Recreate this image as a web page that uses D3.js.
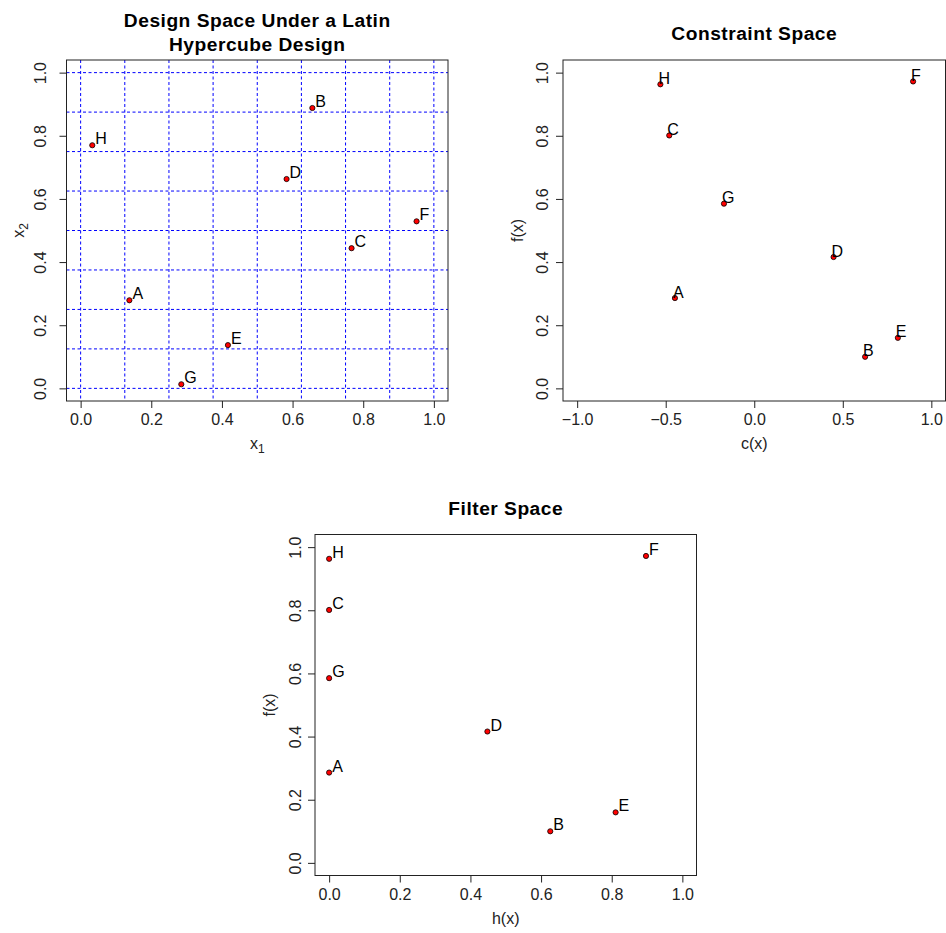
<!DOCTYPE html>
<html>
<head>
<meta charset="utf-8">
<script src="https://cdn.jsdelivr.net/npm/d3@7"></script>
<style>
  html, body { margin: 0; padding: 0; background: #fff; }
  svg { display: block; font-family: "Liberation Sans", Arial, Helvetica, sans-serif; }
</style>
</head>
<body>
<svg id="fig" width="946" height="933"></svg>
<script>
// Eight design points A–H and their responses
const labels = ["A", "B", "C", "D", "E", "F", "G", "H"];
const x1 = [0.138, 0.656, 0.767, 0.583, 0.417, 0.951, 0.285, 0.033];
const x2 = [0.279, 0.888, 0.444, 0.663, 0.137, 0.529, 0.013, 0.770];
const cx = [-0.448, 0.626, -0.480, 0.448, 0.811, 0.897, -0.171, -0.530];
const fx = [0.286, 0.100, 0.801, 0.416, 0.160, 0.972, 0.585, 0.963];
const hx = [0, 0.626, 0, 0.448, 0.811, 0.897, 0, 0];

// Axis ticks and Latin hypercube cell boundaries
const unitTicks = [0, 0.2, 0.4, 0.6, 0.8, 1.0];
const constraintTicks = [-1.0, -0.5, 0.0, 0.5, 1.0];
const lhsBreaks = [0, 0.125, 0.25, 0.375, 0.5, 0.625, 0.75, 0.875, 1];

const svg = d3.select("#fig");
const fmt = d3.format(".1f");
const ink = "#222";

// R-style 4% padding around the data range
function padded(lo, hi) {
  const p = (hi - lo) * 0.04;
  return [lo - p, hi + p];
}

function panel(o) {
  const g = svg.append("g");
  const { left, right, top, bottom } = o.box;
  const x = d3.scaleLinear().domain(padded(...o.xRange)).range([left, right]);
  const y = d3.scaleLinear().domain(padded(...o.yRange)).range([bottom, top]);

  // grid lines marking the hypercube strata
  if (o.grid) {
    const gg = g.append("g")
      .attr("stroke", "#0000ff").attr("stroke-width", 1)
      .attr("stroke-dasharray", "3,2.5").attr("fill", "none");
    gg.selectAll("line.v").data(o.grid).join("line").attr("class", "v")
      .attr("x1", d => x(d)).attr("x2", d => x(d))
      .attr("y1", top).attr("y2", bottom);
    gg.selectAll("line.h").data(o.grid).join("line").attr("class", "h")
      .attr("x1", left).attr("x2", right)
      .attr("y1", d => y(d)).attr("y2", d => y(d));
  }

  // axes (ticks outward, labels parallel to the axis)
  const xAxis = g.append("g").attr("transform", `translate(0,${bottom})`)
    .call(d3.axisBottom(x).tickValues(o.xTicks).tickFormat(fmt).tickSize(7).tickPadding(7));
  const yAxis = g.append("g").attr("transform", `translate(${left},0)`)
    .call(d3.axisLeft(y).tickValues(o.yTicks).tickFormat(fmt).tickSize(7));
  [xAxis, yAxis].forEach(a => {
    a.select(".domain").remove();
    a.selectAll(".tick line").attr("stroke", ink);
    a.selectAll(".tick text").attr("fill", ink).attr("font-size", 16)
      .attr("font-family", "Liberation Sans, Arial, sans-serif");
  });
  xAxis.selectAll(".tick text").attr("dy", null).attr("y", 24);
  yAxis.selectAll(".tick text")
    .attr("x", null).attr("dy", null)
    .attr("text-anchor", "middle")
    .attr("transform", function () {
      const t = d3.select(this.parentNode).attr("transform");
      return `translate(${-o.yTickGap},0) rotate(-90)`;
    });

  // plot frame
  g.append("rect")
    .attr("x", left).attr("y", top)
    .attr("width", right - left).attr("height", bottom - top)
    .attr("fill", "none").attr("stroke", ink).attr("stroke-width", 1);

  // title
  const tt = g.append("text")
    .attr("text-anchor", "middle").attr("font-weight", "bold")
    .attr("font-size", 19.2).attr("letter-spacing", 0.5).attr("fill", "#000");
  o.title.forEach((line, i) => {
    tt.append("tspan").attr("x", (left + right) / 2)
      .attr("y", o.titleY + i * o.titleLead).text(line);
  });

  // axis titles
  const xl = g.append("text").attr("text-anchor", "middle")
    .attr("x", (left + right) / 2).attr("y", bottom + 48)
    .attr("font-size", 16).attr("fill", ink);
  xl.append("tspan").text(o.xLabel[0]);
  if (o.xLabel[1]) xl.append("tspan").attr("font-size", 12).attr("dy", 4).text(o.xLabel[1]);

  const yl = g.append("text").attr("text-anchor", "middle")
    .attr("transform", `translate(${left - o.yTitleGap},${(top + bottom) / 2}) rotate(-90)`)
    .attr("font-size", 16).attr("fill", ink);
  yl.append("tspan").text(o.yLabel[0]);
  if (o.yLabel[1]) yl.append("tspan").attr("font-size", 12).attr("dy", 4).text(o.yLabel[1]);

  // points and their letters
  const pts = labels.map((l, i) => ({ l, x: o.xs[i], y: o.ys[i] }));
  g.selectAll("circle").data(pts).join("circle")
    .attr("cx", d => x(d.x)).attr("cy", d => y(d.y)).attr("r", 2.6)
    .attr("fill", "#ff0000").attr("stroke", "#000").attr("stroke-width", 0.8);
  g.selectAll("text.pt").data(pts).join("text").attr("class", "pt")
    .attr("x", d => x(d.x) + o.labelDx).attr("y", d => y(d.y) + o.labelDy)
    .attr("font-size", 16).attr("fill", "#000").text(d => d.l);
}

// Design space with the Latin hypercube grid
panel({
  box: { left: 66.5, right: 448, top: 60, bottom: 401 },
  xRange: [0, 1], yRange: [0, 1],
  xTicks: unitTicks, yTicks: unitTicks,
  xs: x1, ys: x2, grid: lhsBreaks,
  title: ["Design Space Under a Latin", "Hypercube Design"], titleY: 27, titleLead: 24,
  xLabel: ["x", "1"], yLabel: ["x", "2"],
  yTickGap: 21, yTitleGap: 43,
  labelDx: 3, labelDy: -1
});

// Constraint space
panel({
  box: { left: 563, right: 945.5, top: 60, bottom: 401 },
  xRange: [-1, 1], yRange: [0, 1],
  xTicks: constraintTicks, yTicks: unitTicks,
  xs: cx, ys: fx,
  title: ["Constraint Space"], titleY: 40, titleLead: 24,
  xLabel: ["c(x)"], yLabel: ["f(x)"],
  yTickGap: 15, yTitleGap: 40,
  labelDx: -2, labelDy: -0.5
});

// Filter space
panel({
  box: { left: 315, right: 696.5, top: 534.5, bottom: 875.5 },
  xRange: [0, 1], yRange: [0, 1],
  xTicks: unitTicks, yTicks: unitTicks,
  xs: hx, ys: fx,
  title: ["Filter Space"], titleY: 515, titleLead: 24,
  xLabel: ["h(x)"], yLabel: ["f(x)"],
  yTickGap: 14, yTitleGap: 40,
  labelDx: 3, labelDy: -1
});
</script>
</body>
</html>
